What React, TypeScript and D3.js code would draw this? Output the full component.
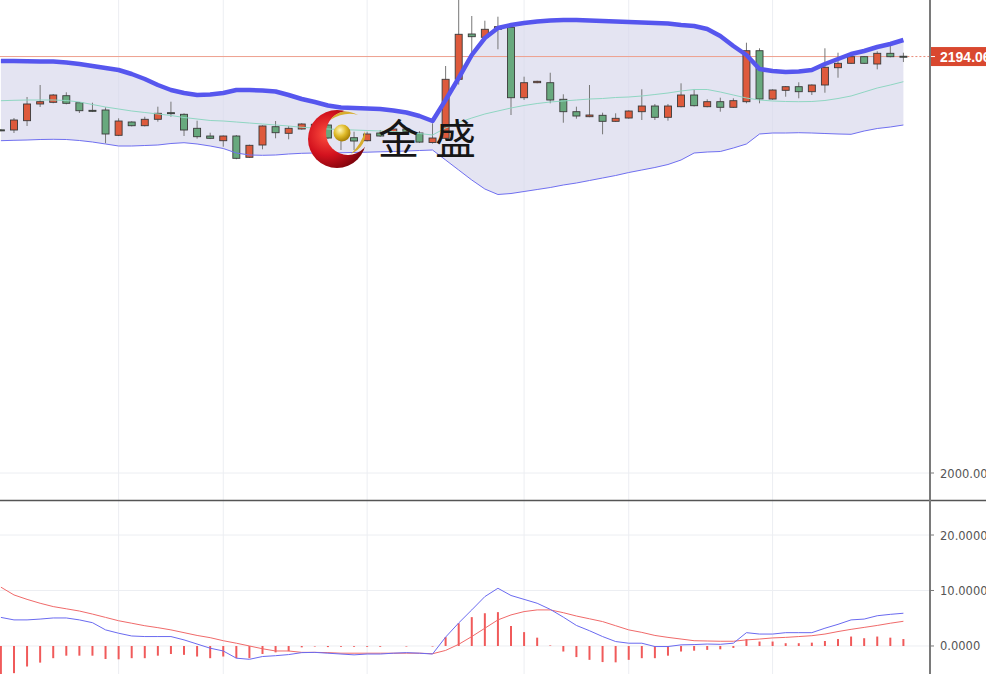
import React from 'react';
import * as d3 from 'd3';

const WIDTH = 986;
const HEIGHT = 674;
const PLOT_RIGHT = 930;
const MAIN_BOTTOM = 500;

// Candles (oldest → newest)
const opens = [
  2159.9, 2159.83, 2164.17, 2171.95, 2172.74, 2175.81, 2172.55, 2169.0, 2169.15, 2157.36,
  2163.56, 2161.83, 2164.82, 2167.9, 2167.15, 2160.62, 2157.03, 2154.84, 2157.03, 2147.11,
  2152.84, 2161.37, 2158.29, 2160.3, 2161.0, 2162.16, 2160.0, 2156.24, 2154.84, 2158.43,
  2158.43, 2160.3, 2158.43, 2154.0, 2155.96, 2183.46, 2204.57, 2203.03, 2206.76, 2207.69,
  2174.88, 2181.87, 2181.87, 2174.14, 2168.36, 2166.03, 2166.68, 2163.88, 2165.42, 2168.36,
  2171.01, 2165.75, 2170.69, 2176.14, 2170.69, 2173.02, 2170.41, 2173.02, 2196.78, 2174.27,
  2178.33, 2180.01, 2177.68, 2180.8, 2188.86, 2190.91, 2193.99, 2190.59, 2195.57, 2194.2,
];
const highs = [
  2160.3, 2165.42, 2175.21, 2180.8, 2176.6, 2177.4, 2172.8, 2172.55, 2170.41, 2165.28,
  2163.9, 2166.0, 2170.69, 2173.02, 2167.6, 2164.17, 2158.57, 2157.3, 2157.5, 2153.0,
  2162.0, 2164.02, 2161.7, 2163.0, 2163.5, 2162.6, 2161.0, 2159.04, 2159.04, 2159.83,
  2160.8, 2160.8, 2159.3, 2162.95, 2189.65, 2222.0, 2212.95, 2210.76, 2212.63, 2208.2,
  2184.67, 2182.8, 2186.53, 2176.47, 2170.69, 2180.8, 2167.9, 2167.61, 2169.0, 2178.8,
  2171.95, 2171.95, 2181.59, 2178.8, 2174.14, 2174.88, 2174.6, 2200.51, 2197.9, 2178.8,
  2180.3, 2182.06, 2181.1, 2197.9, 2195.85, 2194.6, 2194.3, 2196.5, 2199.44, 2195.85,
];
const lows = [
  2159.3, 2158.43, 2161.7, 2170.55, 2172.3, 2171.8, 2167.75, 2168.2, 2153.63, 2157.0,
  2161.5, 2161.5, 2163.7, 2166.0, 2157.03, 2155.78, 2155.6, 2152.05, 2146.2, 2146.8,
  2150.84, 2155.96, 2155.5, 2160.0, 2160.2, 2155.6, 2150.5, 2150.5, 2154.5, 2156.6,
  2158.0, 2158.6, 2153.8, 2153.5, 2155.0, 2181.0, 2195.57, 2202.6, 2197.44, 2166.82,
  2173.81, 2181.6, 2172.27, 2163.23, 2165.1, 2165.8, 2157.83, 2163.6, 2165.1, 2164.49,
  2164.49, 2164.17, 2170.4, 2170.8, 2170.4, 2168.36, 2170.1, 2172.27, 2172.27, 2173.9,
  2175.35, 2174.6, 2176.14, 2177.21, 2184.2, 2190.6, 2190.6, 2188.1, 2193.7, 2191.5,
];
const closes = [
  2159.6, 2164.49, 2171.95, 2173.02, 2176.14, 2172.27, 2168.82, 2168.82, 2157.97, 2164.02,
  2161.83, 2164.82, 2167.61, 2167.6, 2159.83, 2156.71, 2155.96, 2157.03, 2146.64, 2152.7,
  2161.7, 2158.57, 2160.62, 2162.63, 2162.5, 2156.1, 2156.0, 2154.7, 2157.97, 2157.03,
  2160.3, 2159.04, 2154.2, 2156.1, 2183.46, 2204.43, 2203.31, 2206.76, 2207.97, 2174.88,
  2181.87, 2182.52, 2173.81, 2168.36, 2166.35, 2166.82, 2163.88, 2165.28, 2168.68, 2171.01,
  2165.75, 2171.01, 2176.14, 2171.15, 2173.02, 2170.41, 2173.49, 2196.78, 2174.27, 2178.47,
  2180.01, 2177.68, 2180.8, 2189.05, 2190.91, 2193.99, 2190.91, 2195.57, 2193.99, 2194.06,
];

// Bollinger bands
const bollUpper = [
  2191.99, 2191.99, 2191.9, 2191.8, 2191.7, 2191.3, 2190.59, 2189.65, 2188.72, 2187.79,
  2185.93, 2183.6, 2180.8, 2178.47, 2177.07, 2176.14, 2176.37, 2177.07, 2178.47, 2178.47,
  2178.24, 2177.77, 2176.14, 2174.27, 2172.88, 2171.25, 2170.31, 2170.08, 2169.85, 2169.62,
  2168.92, 2167.99, 2166.35, 2164.02, 2173.81, 2184.06, 2194.78, 2202.7, 2207.36, 2208.76,
  2209.69, 2210.39, 2210.86, 2211.09, 2211.09, 2210.86, 2210.62, 2210.39, 2210.16, 2209.93,
  2209.69, 2209.46, 2208.76, 2208.29, 2206.89, 2203.63, 2198.97, 2194.78, 2188.26, 2187.33,
  2186.86, 2187.09, 2187.79, 2190.59, 2192.92, 2195.25, 2196.64, 2198.51, 2199.91, 2201.77,
];
const bollMid = [
  2173.48, 2173.67, 2173.81, 2173.81, 2173.81, 2173.58, 2172.88, 2171.71, 2170.55, 2169.62,
  2168.69, 2167.99, 2167.29, 2166.59, 2165.66, 2164.96, 2164.26, 2164.02, 2163.56, 2163.09,
  2162.63, 2162.16, 2161.69, 2161.09, 2160.76, 2160.3, 2160.06, 2159.83, 2159.6, 2159.36,
  2159.13, 2158.66, 2158.2, 2157.5, 2160.76, 2163.33, 2165.42, 2167.29, 2168.69, 2170.08,
  2171.25, 2172.18, 2172.88, 2173.35, 2173.81, 2174.27, 2174.51, 2174.98, 2175.21, 2175.68,
  2176.37, 2177.07, 2178.0, 2178.7, 2178.7, 2177.54, 2176.14, 2174.74, 2173.81, 2173.35,
  2173.11, 2173.02, 2173.11, 2173.58, 2174.51, 2175.68, 2177.54, 2179.4, 2180.8, 2182.34,
];
const bollLower = [
  2154.85, 2155.03, 2155.17, 2155.4, 2155.5, 2155.4, 2154.94, 2154.24, 2153.31, 2152.37,
  2152.37, 2152.61, 2152.84, 2153.54, 2153.91, 2153.31, 2152.37, 2151.21, 2149.11, 2148.18,
  2148.04, 2148.18, 2148.65, 2148.97, 2149.11, 2149.11, 2149.21, 2149.35, 2149.49, 2149.67,
  2149.81, 2150.05, 2150.28, 2150.51, 2145.85, 2141.19, 2136.53, 2132.34, 2129.77, 2130.24,
  2131.17, 2132.1, 2133.03, 2134.2, 2135.13, 2136.3, 2137.46, 2138.63, 2140.02, 2141.19,
  2142.36, 2143.75, 2145.85, 2149.11, 2149.58, 2149.81, 2151.44, 2153.31, 2157.97, 2158.43,
  2158.43, 2158.57, 2158.43, 2158.2, 2157.97, 2157.83, 2159.36, 2160.53, 2161.23, 2162.16,
];

// MACD
const macdDif = [
  5.15, 4.7, 4.7, 4.85, 5.05, 5.05, 4.7, 4.2, 2.9, 2.3,
  1.8, 1.7, 1.7, 1.7, 1.1, 0.35, -0.4, -0.9, -2.2, -2.4,
  -1.9, -1.75, -1.55, -1.2, -1.15, -1.3, -1.45, -1.6, -1.45, -1.45,
  -1.3, -1.2, -1.3, -1.45, 1.6, 4.15, 6.5, 8.9, 10.4, 9.1,
  8.4, 7.7, 6.6, 5.2, 3.7, 2.75, 1.7, 0.8, 0.5, 0.5,
  -0.1, -0.1, 0.2, 0.25, 0.35, 0.3, 0.5, 2.4, 2.15, 2.15,
  2.4, 2.4, 2.4, 3.2, 3.9, 4.7, 4.85, 5.45, 5.7, 5.9,
];
const macdDea = [
  10.6, 9.2, 8.4, 7.7, 7.1, 6.7, 6.3, 5.75, 5.15, 4.55,
  4.1, 3.65, 3.3, 2.9, 2.4, 1.9, 1.5, 0.95, 0.5, 0.0,
  -0.5, -0.9, -0.9, -1.15, -1.15, -1.2, -1.3, -1.3, -1.3, -1.3,
  -1.3, -1.3, -1.3, -1.4, -0.8, 0.3, 1.7, 3.2, 4.7, 5.6,
  6.2, 6.5, 6.5, 6.0, 5.4, 4.9, 4.4, 3.65, 2.9, 2.45,
  1.9, 1.55, 1.25, 0.95, 0.9, 0.85, 0.85, 1.1, 1.25, 1.45,
  1.55, 1.7, 1.85, 2.15, 2.6, 3.0, 3.35, 3.7, 4.1, 4.45,
];
const macdHist = [
  -5.4, -4.9, -3.7, -3.0, -2.2, -1.75, -1.75, -1.75, -2.35, -2.4,
  -2.2, -2.2, -1.75, -1.45, -1.6, -1.9, -2.2, -1.9, -2.2, -2.2,
  -1.45, -1.15, -0.95, -0.25, -0.1, -0.2, -0.15, -0.15, -0.15, -0.15,
  0, -0.1, 0, -0.1, 1.6, 4.1, 5.2, 5.9, 6.1, 3.6,
  2.5, 1.5, 0.1, -1.0, -2.0, -2.5, -2.9, -2.95, -2.5, -2.2,
  -2.2, -1.75, -1.0, -0.85, -0.7, -0.6, -0.35, 1.25, 0.8, 0.8,
  0.5, 0.5, 0.6, 0.9, 1.25, 1.7, 1.4, 1.7, 1.5, 1.25,
];

// Axis ticks and session separators
const priceTicks = [2000];
const macdTicks = [0, 10, 20];
const sessionBreaks = [9, 17, 28, 40, 48, 59];
const lastPrice = 2194.06;
const brandName = '金盛';

const UP = '#de5a3c';
const DOWN = '#68a97e';
const GRID = '#eceef2';
const AXIS = '#7a7a7a';

export default function App() {
  const n = closes.length;
  const idx = d3.range(n);
  const x = d3.scaleLinear().domain([0, n - 1]).range([0.9, 903.4]);
  const yP = d3.scaleLinear().domain([1987.42, 2220.41]).range([MAIN_BOTTOM, 0]);
  const yM = d3.scaleLinear().domain([-5.05, 26.13]).range([HEIGHT, 501]);

  const band = d3
    .area<number>()
    .x((i) => x(i))
    .y0((i) => yP(bollLower[i]))
    .y1((i) => yP(bollUpper[i]))(idx) as string;
  const line = (arr: number[], y: d3.ScaleLinear<number, number>) =>
    d3
      .line<number>()
      .x((i) => x(i))
      .y((i) => y(arr[i]))(idx) as string;

  const bodyW = 7;
  const lastY = yP(lastPrice);

  return (
    <svg
      width={WIDTH}
      height={HEIGHT}
      style={{ position: 'fixed', left: 0, top: 0, background: '#fff' }}
    >
      <defs>
        <clipPath id="mainClip">
          <rect x={0} y={0} width={PLOT_RIGHT} height={MAIN_BOTTOM} />
        </clipPath>
        <clipPath id="macdClip">
          <rect x={0} y={501} width={PLOT_RIGHT} height={HEIGHT - 501} />
        </clipPath>
        <radialGradient id="ringRed" cx="0.33" cy="0.42" r="0.72">
          <stop offset="0" stopColor="#ff5040" />
          <stop offset="0.5" stopColor="#d3121e" />
          <stop offset="1" stopColor="#6e0008" />
        </radialGradient>
        <radialGradient id="ballGold" cx="0.38" cy="0.33" r="0.72">
          <stop offset="0" stopColor="#fff7b8" />
          <stop offset="0.5" stopColor="#e0bb2a" />
          <stop offset="1" stopColor="#9e7600" />
        </radialGradient>
        <mask id="ringCut">
          <rect x={290} y={95} width={100} height={90} fill="white" />
          <circle cx={348} cy={133} r={22} fill="black" />
        </mask>
      </defs>

      {/* grid */}
      {sessionBreaks.map((i) => (
        <line key={'v' + i} x1={x(i)} x2={x(i)} y1={0} y2={HEIGHT} stroke={GRID} strokeWidth={1} />
      ))}
      {priceTicks.map((t) => (
        <line key={'p' + t} x1={0} x2={PLOT_RIGHT} y1={yP(t)} y2={yP(t)} stroke={GRID} strokeWidth={1} />
      ))}
      {macdTicks.map((t) => (
        <line key={'m' + t} x1={0} x2={PLOT_RIGHT} y1={yM(t)} y2={yM(t)} stroke={GRID} strokeWidth={1} />
      ))}

      {/* price panel */}
      <g clipPath="url(#mainClip)">
        <path d={band} fill="#d6d6ec" fillOpacity={0.66} />
        <line x1={0} x2={x(n - 1)} y1={lastY} y2={lastY} stroke="#eea08e" strokeWidth={1} />
        <line x1={x(n - 1)} x2={PLOT_RIGHT} y1={lastY} y2={lastY} stroke="#e88a78" strokeWidth={1} strokeDasharray="2,2" />
        {idx.map((i) => {
          const o = opens[i];
          const c = closes[i];
          const up = c >= o;
          const top = yP(Math.max(o, c));
          const h = Math.max(1, yP(Math.min(o, c)) - top);
          const cx = x(i);
          return (
            <g key={'c' + i}>
              <line x1={cx} x2={cx} y1={yP(highs[i])} y2={yP(lows[i])} stroke="#777" strokeWidth={1} />
              <rect
                x={cx - bodyW / 2}
                y={top}
                width={bodyW}
                height={h}
                fill={up ? UP : DOWN}
                stroke="#3a3a3a"
                strokeWidth={0.9}
              />
            </g>
          );
        })}
        <path d={line(bollMid, yP)} fill="none" stroke="#8fd6c2" strokeWidth={1} />
        <path d={line(bollLower, yP)} fill="none" stroke="#6f6ff0" strokeWidth={1} />
        <path d={line(bollUpper, yP)} fill="none" stroke="#5656ee" strokeWidth={4.5} strokeLinejoin="round" />
      </g>

      {/* brand mark */}
      <g>
        <circle cx={337} cy={139} r={29} fill="url(#ringRed)" mask="url(#ringCut)" />
        <circle cx={342} cy={133} r={8.5} fill="url(#ballGold)" />
        <path d="M330 120 Q341 106 358 115 Q345 111 330 120 Z" fill="#d7ad2e" />
        <path d="M365 131 Q367 146 351 154 Q362 143 365 131 Z" fill="#d7ad2e" />
        <text
          x={378}
          y={154}
          fontFamily="'Noto Sans CJK SC', sans-serif"
          fontSize={41}
          letterSpacing={16}
          fill="#161616"
        >
          {brandName}
        </text>
      </g>

      {/* MACD panel */}
      <g clipPath="url(#macdClip)">
        {idx.map((i) => (
          <line
            key={'h' + i}
            x1={x(i)}
            x2={x(i)}
            y1={yM(0)}
            y2={yM(macdHist[i])}
            stroke="#f05a5a"
            strokeWidth={2}
          />
        ))}
        <path d={line(macdDea, yM)} fill="none" stroke="#f06a6a" strokeWidth={1} />
        <path d={line(macdDif, yM)} fill="none" stroke="#6a6af0" strokeWidth={1} />
      </g>

      {/* panel divider and right axis */}
      <line x1={0} x2={WIDTH} y1={500.5} y2={500.5} stroke="#555" strokeWidth={1.5} />
      <line x1={PLOT_RIGHT} x2={PLOT_RIGHT} y1={0} y2={HEIGHT} stroke={AXIS} strokeWidth={2} />

      {priceTicks.map((t) => (
        <g key={'pt' + t}>
          <line x1={PLOT_RIGHT} x2={PLOT_RIGHT + 4} y1={yP(t)} y2={yP(t)} stroke={AXIS} />
          <text x={940} y={yP(t) + 4.5} fontFamily="'DejaVu Sans', sans-serif" fontSize={11.5} fill="#555">
            {t.toFixed(2)}
          </text>
        </g>
      ))}
      {macdTicks.map((t) => (
        <g key={'mt' + t}>
          <line x1={PLOT_RIGHT} x2={PLOT_RIGHT + 4} y1={yM(t)} y2={yM(t)} stroke={AXIS} />
          <text x={940} y={yM(t) + 4.5} fontFamily="'DejaVu Sans', sans-serif" fontSize={11.5} fill="#555">
            {t.toFixed(4)}
          </text>
        </g>
      ))}

      {/* last price tag */}
      <rect x={931} y={lastY - 9.5} width={60} height={19} fill="#d9482f" />
      <line x1={931} x2={935} y1={lastY} y2={lastY} stroke="#fff" strokeWidth={1} />
      <text
        x={940}
        y={lastY + 5}
        fontFamily="'Liberation Sans', Arial, sans-serif"
        fontWeight="bold"
        fontSize={14}
        fill="#fff"
      >
        {lastPrice.toFixed(2)}
      </text>
    </svg>
  );
}
